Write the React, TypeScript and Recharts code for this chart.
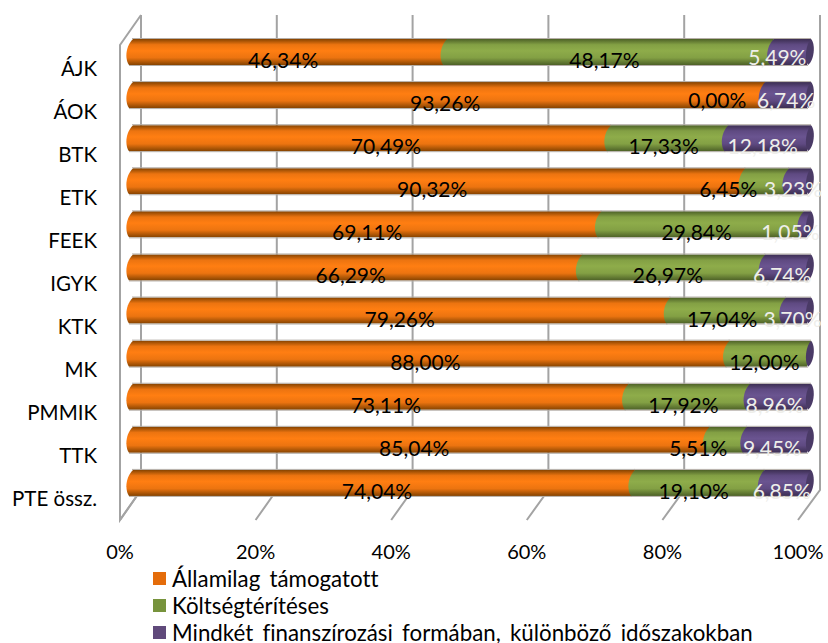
import React from "react";
import { BarChart, Bar, XAxis, YAxis, Legend, LabelList } from "recharts";

const categories = ["ÁJK", "ÁOK", "BTK", "ETK", "FEEK", "IGYK", "KTK", "MK", "PMMIK", "TTK", "PTE össz."];
const statePaid = [46.34, 93.26, 70.49, 90.32, 69.11, 66.29, 79.26, 88.0, 73.11, 85.04, 74.04];
const selfPaid = [48.17, 0.0, 17.33, 6.45, 29.84, 26.97, 17.04, 12.0, 17.92, 5.51, 19.1];
const both = [5.49, 6.74, 12.18, 3.23, 1.05, 6.74, 3.7, 0.0, 8.96, 9.45, 6.85];
const percentTicks = [0, 20, 40, 60, 80, 100];

// manual displacement of the data labels, as in the source chart
const stateNudge = [-4, -1, 17, -4, 3, -4, 1, -3, 8, -4, -4];
const selfNudge = [-3, -45, -3, -36, -3, -3, -3, -3, -3, -27, -3];
const bothNudge = [-12, 1, -4, -4, -14, -3, -3, 0, -3, -4, -3];
const noLift = [0, 0, 0, 0, 0, 0, 0, 0, 0, 0, 0];
const selfLift = [0, 3, 0, 0, 0, 0, 0, 0, 0, 0, 0];
const bothLift = [3, 3, 0, 0, 0, 0, 0, 0, 0, 0, 0];

const data = categories.map((name, i) => ({
  name,
  state: statePaid[i],
  self: selfPaid[i],
  both: both[i],
}));

const FONT = "Lato, Carlito, Calibri, sans-serif";
const FRAME = "#a3a3a3";
const LABEL_SIZE = 21;

const Segment = (gradient: string, capFill?: string) => (p: any) => {
  const { x, y, width, height } = p;
  const top = y;
  const bot = y + height;
  const X = x + width;
  return (
    <g>
      {width > 0.01 && (
        <>
          <path
            d={`M${x + 3},${top} C${x - 5},${top + height * 0.3} ${x - 5},${top + height * 0.8} ${x - 1},${bot} L${X - 1},${bot} L${X + 3},${top} Z`}
            fill={`url(#${gradient})`}
          />
          <path d={`M${x + 2},${top - 0.5} L${X + 3},${top - 0.5}`} stroke="#b5aea8" strokeWidth={1} />
          <path d={`M${x - 1},${bot + 0.5} L${X},${bot + 0.5}`} stroke="#b5aea8" strokeWidth={1} />
        </>
      )}
      {capFill && (
        <path
          d={`M${X + 3},${top} C${X + 8},${top + height * 0.2} ${X + 6},${top + height * 0.85} ${X},${bot} C${X - 4},${top + height * 0.75} ${X - 2},${top + height * 0.2} ${X + 3},${top} Z`}
          fill={capFill}
        />
      )}
    </g>
  );
};

const Label = (nudges: number[], lifts: number[], color: string, hideZero = false) => (p: any) => {
  const { x, y, width, height, value, index } = p;
  if (hideZero && value === 0) return null;
  return (
    <text
      x={x + width / 2 + nudges[index]}
      y={y + height / 2 + 7.5 - lifts[index]}
      fill={color}
      fontFamily={FONT}
      fontSize={LABEL_SIZE}
      textAnchor="middle"
      dominantBaseline="central"
    >
      {value.toFixed(2).replace(".", ",") + "%"}
    </text>
  );
};

const CategoryTick = (p: any) => (
  <text x={97} y={p.y + 16} textAnchor="end" dominantBaseline="central" fontFamily={FONT} fontSize={20.5} fill="#000">
    {p.payload.value}
  </text>
);

const PercentTick = (p: any) => (
  <text x={p.x - 10} y={551} textAnchor="middle" dominantBaseline="central" fontFamily={FONT} fontSize={20} fill="#000">
    {p.payload.value + "%"}
  </text>
);

const LegendBlock = ({ payload }: any) => (
  <div
    style={{
      fontFamily: FONT,
      fontSize: 22.3,
      wordSpacing: 3.5,
      fontVariantLigatures: "none",
      color: "#000",
      lineHeight: "22px",
    }}
  >
    {(payload || []).map((e: any) => (
      <div key={e.value} style={{ display: "flex", alignItems: "center", height: 27, whiteSpace: "nowrap" }}>
        <span style={{ width: 13, height: 13, background: e.color, marginRight: 6, display: "inline-block" }} />
        <span>{e.value}</span>
      </div>
    ))}
  </div>
);

const Gradient = ({ id, edge, mid, glow }: { id: string; edge: string; mid: string; glow: string }) => (
  <linearGradient id={id} x1="0" y1="0" x2="0" y2="1">
    <stop offset="0" stopColor={edge} />
    <stop offset="0.22" stopColor={mid} />
    <stop offset="0.45" stopColor={glow} />
    <stop offset="0.72" stopColor={mid} />
    <stop offset="1" stopColor={edge} />
  </linearGradient>
);

export default function App() {
  return (
    <div style={{ position: "absolute", left: 0, top: 0, width: 828, height: 643 }}>
      <BarChart
        width={828}
        height={643}
        data={data}
        layout="vertical"
        barSize={26}
        margin={{ top: 30, right: 20, bottom: 0, left: 0 }}
      >
        <defs>
          <Gradient id="gOrange" edge="#854300" mid="#ec7410" glow="#ff7e12" />
          <Gradient id="gGreen" edge="#4d6127" mid="#83a044" glow="#8eac4a" />
          <Gradient id="gPurple" edge="#3c2e52" mid="#5f4a82" glow="#6a5490" />
        </defs>
        <g fill="none" stroke={FRAME} strokeWidth={2}>
          <path d="M141,15 L120,45 L120,520 L141,490" />
          {percentTicks.map((t) => (
            <path key={t} d={`M${141 + t * 6.79},15 L${141 + t * 6.79},490 L${120 + t * 6.78},520`} />
          ))}
        </g>
        <XAxis
          type="number"
          domain={[0, 100]}
          ticks={percentTicks}
          axisLine={false}
          tickLine={false}
          height={139}
          tick={PercentTick}
          interval={0}
        />
        <YAxis
          type="category"
          dataKey="name"
          width={130}
          axisLine={false}
          tickLine={false}
          interval={0}
          tick={CategoryTick}
        />
        <Legend
          layout="horizontal"
          align="center"
          verticalAlign="middle"
          itemSorter={null}
          content={LegendBlock}
          wrapperStyle={{ position: "absolute", left: 153, top: 565, width: 660 }}
        />
        <Bar dataKey="state" name="Államilag támogatott" stackId="s" fill="#E46C0A" isAnimationActive={false} shape={Segment("gOrange")}>
          <LabelList dataKey="state" content={Label(stateNudge, noLift, "#000")} />
        </Bar>
        <Bar dataKey="self" name="Költségtérítéses" stackId="s" fill="#77933C" isAnimationActive={false} shape={Segment("gGreen")}>
          <LabelList dataKey="self" content={Label(selfNudge, selfLift, "#000")} />
        </Bar>
        <Bar
          dataKey="both"
          name="Mindkét finanszírozási formában, különböző időszakokban"
          stackId="s"
          fill="#604A7B"
          isAnimationActive={false}
          shape={Segment("gPurple", "#4a3a66")}
        >
          <LabelList dataKey="both" content={Label(bothNudge, bothLift, "#eeeeea", true)} />
        </Bar>
      </BarChart>
    </div>
  );
}
